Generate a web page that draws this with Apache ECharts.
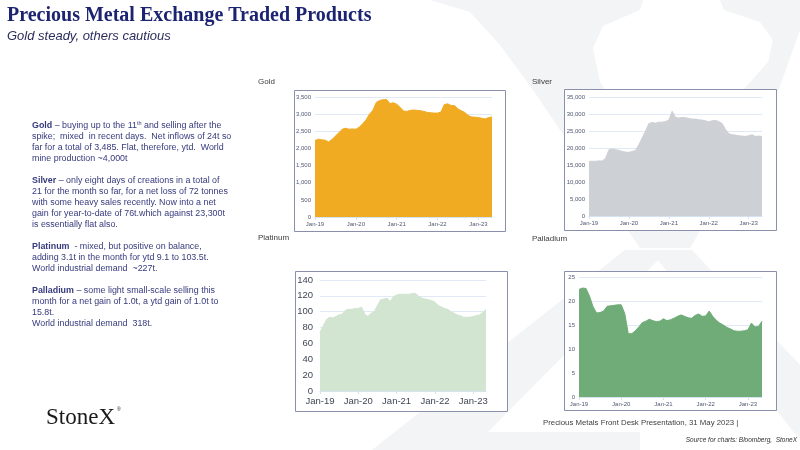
<!DOCTYPE html>
<html>
<head>
<meta charset="utf-8">
<script src="https://cdn.jsdelivr.net/npm/echarts@6/dist/echarts.min.js"></script>
<style>
  html, body { margin: 0; padding: 0; background: #fff; }
  #main { width: 800px; height: 450px; }
</style>
</head>
<body>
<div id="main"></div>
<script>
// month categories Jan-19 .. May-23
var monthNames = ['Jan', 'Feb', 'Mar', 'Apr', 'May', 'Jun', 'Jul', 'Aug', 'Sep', 'Oct', 'Nov', 'Dec'];
var months = [];
for (var yr = 19; yr <= 23; yr++) {
  for (var m = 0; m < 12; m++) {
    if (yr === 23 && m > 4) break;
    months.push(monthNames[m] + '-' + yr);
  }
}

// ETF holdings, tonnes (monthly)
var goldTonnes = [
  2230, 2270, 2250, 2240, 2190, 2260, 2360, 2460, 2560, 2590, 2560, 2570,
  2560, 2620, 2720, 2830, 3000, 3110, 3340, 3400, 3420, 3430, 3310, 3330,
  3290, 3200, 3090, 3080, 3110, 3120, 3110, 3100, 3080, 3050, 3040, 3030,
  3030, 3060, 3280, 3300, 3250, 3250, 3150, 3100, 3050, 2960, 2920, 2910,
  2900, 2880, 2860, 2900, 2920
];
var silverTonnes = [
  16100, 16100, 16100, 16200, 16200, 17000, 19500, 19700, 19500, 19300, 19000, 18800,
  18700, 19000, 19300, 21000, 23000, 25000, 27200, 27500, 27300, 27600, 27600, 27800,
  28200, 30800, 29000, 28800, 29000, 28900, 28700, 28500, 28500, 28300, 28200, 28000,
  27700, 28000, 28100, 27800, 27200, 25500, 24200, 23900, 23800, 23600, 23500, 23400,
  23600, 23900, 23400, 23500, 23400
];
var platinumTonnes = [
  74, 82, 90, 93, 92, 94, 96, 97, 102, 103, 103, 104,
  104, 106, 97, 94, 98, 100, 108, 115, 116, 117, 113, 119,
  121, 122, 122, 122, 122, 123, 123, 119, 117, 116, 115, 114,
  112, 108, 106, 104, 103, 100, 98, 96, 95, 93, 93, 93,
  94, 95, 96, 99, 103
];
var palladiumTonnes = [
  22.4, 22.7, 22.6, 21.0, 18.8, 17.5, 17.6, 17.9, 18.9, 19.0, 19.1, 19.2,
  19.2, 17.4, 13.2, 13.2, 13.8, 14.6, 15.5, 15.8, 16.2, 15.9, 15.7, 15.8,
  16.3, 15.9, 16.1, 16.4, 16.8, 17.1, 16.8, 16.5, 16.4, 17.0, 17.3, 16.8,
  16.9, 17.9, 16.8, 16.0, 15.4, 15.0, 14.5, 14.2, 13.8, 13.7, 13.7, 13.8,
  14.0, 15.4, 14.6, 14.7, 15.8
];

// y-axis ranges
var goldAxis = { max: 3500, step: 500 };
var silverAxis = { max: 35000, step: 5000 };
var platinumAxis = { max: 140, step: 20 };
var palladiumAxis = { max: 25, step: 5 };

var chart = echarts.init(document.getElementById('main'));

var janOnly = function (i) { return i % 12 === 0; };
var thousands = function (v) { return v.toLocaleString('en-US'); };

function xAxisFor(i, big) {
  return {
    type: 'category', gridIndex: i, data: months, boundaryGap: false,
    axisLine: { lineStyle: { color: '#d5e2ef' } },
    axisTick: { show: true, interval: janOnly, length: 3, lineStyle: { color: '#d5e2ef' } },
    axisLabel: {
      interval: janOnly, fontSize: big ? 9.5 : 6, margin: big ? 5 : 4,
      color: big ? '#3f4654' : '#4f5870'
    }
  };
}
function yAxisFor(i, ax, big) {
  return {
    type: 'value', gridIndex: i, min: 0, max: ax.max, interval: ax.step,
    axisLine: { show: false }, axisTick: { show: false },
    splitLine: { lineStyle: { color: '#dfeaf6' } },
    axisLabel: {
      formatter: thousands, fontSize: big ? 9.5 : 6, margin: big ? 7 : 4,
      color: big ? '#3f4654' : '#4f5870'
    }
  };
}
function areaSeries(i, data, color) {
  return {
    type: 'line', xAxisIndex: i, yAxisIndex: i, data: data,
    symbol: 'none', silent: true,
    lineStyle: { width: 1, color: color },
    itemStyle: { color: color },
    areaStyle: { color: color, opacity: 1 }
  };
}

var bodyFont = '"Liberation Sans", Arial, sans-serif';
var noteRich = {
  b: { fontWeight: 'bold', fontSize: 8.9, fontFamily: bodyFont, fill: '#363a7c', lineHeight: 10.9 },
  sup: { fontSize: 5.5, fontFamily: bodyFont, fill: '#363a7c', lineHeight: 6, verticalAlign: 'top' }
};
function note(y, text) {
  return {
    type: 'text', x: 32, y: y, z: 5,
    style: {
      text: text, font: '8.9px ' + bodyFont, fill: '#363a7c',
      lineHeight: 10.9, verticalAlign: 'top', rich: noteRich
    }
  };
}
function frame(x, y, w, h) {
  return {
    type: 'rect', z: -1, shape: { x: x + 0.5, y: y + 0.5, width: w, height: h },
    style: { fill: '#fff', stroke: '#8a90ab', lineWidth: 1 }
  };
}
function label(x, y, text) {
  return {
    type: 'text', x: x, y: y, z: 5,
    style: { text: text, font: '8px ' + bodyFont, fill: '#3a3a3a', verticalAlign: 'middle' }
  };
}
var wm = '#f3f4f6';
function mark(points, fill) {
  return { type: 'polygon', z: -2, shape: { points: points }, style: { fill: fill || wm } };
}

chart.setOption({
  animation: false,
  backgroundColor: '#fff',
  textStyle: { fontFamily: bodyFont },
  grid: [
    { left: 315, top: 97, width: 177, height: 120 },
    { left: 589, top: 97, width: 173, height: 119 },
    { left: 320, top: 280, width: 166, height: 111 },
    { left: 579, top: 277, width: 183, height: 120 }
  ],
  xAxis: [xAxisFor(0, false), xAxisFor(1, false), xAxisFor(2, true), xAxisFor(3, false)],
  yAxis: [yAxisFor(0, goldAxis, false), yAxisFor(1, silverAxis, false),
          yAxisFor(2, platinumAxis, true), yAxisFor(3, palladiumAxis, false)],
  series: [
    areaSeries(0, goldTonnes, '#f0ab22'),
    areaSeries(1, silverTonnes, '#cdd0d4'),
    areaSeries(2, platinumTonnes, '#d1e5d1'),
    areaSeries(3, palladiumTonnes, '#6fac77')
  ],
  graphic: { elements: [
    // faint logo watermark
    mark([[430, 0], [800, 0], [800, 30], [775, 100], [690, 248], [640, 248], [533, 90], [500, 45], [470, 12]]),
    mark([[643, 0], [720, 0], [724, 10], [760, 22], [773, 40], [768, 62], [745, 88], [713, 112],
          [668, 205], [620, 112], [600, 82], [593, 48], [603, 26], [640, 10]], '#fff'),
    mark([[625, 250], [668, 250], [470, 450], [372, 450]]),
    mark([[650, 250], [692, 250], [800, 365], [800, 440]]),
    mark([[455, 432], [640, 432], [640, 450], [455, 450]]),
    // chart frames
    frame(294, 90, 211, 141),
    frame(564, 89, 212, 141),
    frame(295, 271, 212, 140),
    frame(564, 271, 212, 139),
    // headings
    { type: 'text', x: 7, y: 15.5, z: 5, style: {
      text: 'Precious Metal Exchange Traded Products',
      font: 'bold 20px "Liberation Serif", serif', fill: '#1c2472', verticalAlign: 'middle' } },
    { type: 'text', x: 7, y: 36, z: 5, style: {
      text: 'Gold steady, others cautious',
      font: 'italic 13px ' + bodyFont, fill: '#2a2e5c', verticalAlign: 'middle' } },
    label(258, 82, 'Gold'),
    label(532, 82, 'Silver'),
    label(258, 238, 'Platinum'),
    label(532, 239, 'Palladium'),
    // commentary
    note(120.3, '{b|Gold} – buying up to the 11{sup|th} and selling after the\nspike;  mixed  in recent days.  Net inflows of 24t so\nfar for a total of 3,485. Flat, therefore, ytd.  World\nmine production ~4,000t'),
    note(175.5, '{b|Silver} – only eight days of creations in a total of\n21 for the month so far, for a net loss of 72 tonnes\nwith some heavy sales recently. Now into a net\ngain for year-to-date of 76t.which against 23,300t\nis essentially flat also.'),
    note(241.5, '{b|Platinum}  - mixed, but positive on balance,\nadding 3.1t in the month for ytd 9.1 to 103.5t.\nWorld industrial demand  ~227t.'),
    note(285.5, '{b|Palladium} – some light small-scale selling this\nmonth for a net gain of 1.0t, a ytd gain of 1.0t to\n15.8t.\nWorld industrial demand  318t.'),
    // footer
    { type: 'text', x: 46, y: 418, z: 5, style: {
      text: 'StoneX', font: '23px "Liberation Serif", serif', fill: '#1a1a1a', verticalAlign: 'middle' } },
    { type: 'text', x: 117, y: 410, z: 5, style: {
      text: '®', font: '5px ' + bodyFont, fill: '#1a1a1a', verticalAlign: 'middle' } },
    { type: 'text', x: 543, y: 423, z: 5, style: {
      text: 'Precious Metals Front Desk Presentation, 31 May 2023 |',
      font: '7.8px ' + bodyFont, fill: '#404040', verticalAlign: 'middle' } },
    { type: 'text', x: 797, y: 440, z: 5, style: {
      text: 'Source for charts: Bloomberg,  StoneX',
      font: 'italic 6.5px ' + bodyFont, fill: '#333', align: 'right', verticalAlign: 'middle' } }
  ] }
});
</script>
</body>
</html>
